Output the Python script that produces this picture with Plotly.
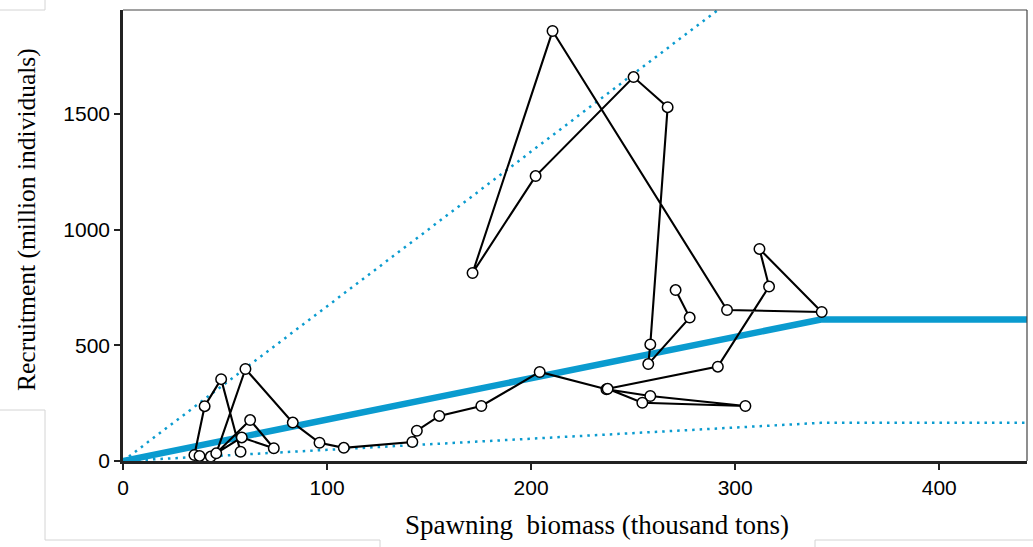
import plotly.graph_objects as go

# Observed stock-recruitment path (spawning biomass, recruitment), in time order
biomass = [57.6, 48.1, 40.0, 35.0, 37.5, 43.0, 58.2, 73.9, 62.3, 45.7, 60.0, 83.2,
           96.3, 108.2, 141.8, 144.0, 155.0, 175.6, 204.2, 236.9, 258.4, 305.0, 254.5,
           237.5, 291.5, 316.6, 311.9, 342.4, 296.0, 210.5, 171.3, 202.2, 250.2, 266.9,
           258.4, 257.4, 277.7, 270.8]
recruit = [40, 354, 237, 26, 22, 19, 102, 55, 177, 33, 398, 166,
           79, 57, 82, 131, 195, 238, 385, 310, 281, 238, 252,
           312, 408, 754, 917, 644, 653, 1859, 813, 1232, 1660, 1530,
           504, 419, 620, 739]

# Hockey-stick reference lines
hs_x = [0, 342, 443]
hs_y = [0, 612, 612]
upper_x = [0, 300]
upper_y = [0, 2007]
lower_x = [0, 342, 443]
lower_y = [0, 165, 165]

x_ticks = [0, 100, 200, 300, 400]
y_ticks = [0, 500, 1000, 1500]

blue = "#0a9bcf"

W, H = 1033, 547
L, R, T, B = 123, 1027, 10, 461  # plot area in pixels

fig = go.Figure()
fig.add_trace(go.Scatter(x=upper_x, y=upper_y, mode="lines",
                         line=dict(color=blue, width=2.5, dash="2.5px,5px"), hoverinfo="skip"))
fig.add_trace(go.Scatter(x=lower_x, y=lower_y, mode="lines",
                         line=dict(color=blue, width=2.5, dash="2.5px,5px"), hoverinfo="skip"))
fig.add_trace(go.Scatter(x=hs_x, y=hs_y, mode="lines",
                         line=dict(color=blue, width=6.5), hoverinfo="skip"))
fig.add_trace(go.Scatter(x=biomass, y=recruit, mode="lines+markers",
                         line=dict(color="black", width=2.1),
                         marker=dict(symbol="circle", size=10.5, color="white",
                                     line=dict(color="black", width=1.5))))

tickfont = dict(family="Liberation Sans, Arial", size=21, color="black")
fig.update_layout(
    width=W, height=H,
    margin=dict(l=L, r=W - R, t=T, b=H - B, autoexpand=False),
    paper_bgcolor="white", plot_bgcolor="white",
    showlegend=False,
    xaxis=dict(range=[0, 443], tickvals=x_ticks, showgrid=False, zeroline=False,
               showline=True, linecolor="#222", linewidth=2.5, automargin=False,
               ticks="outside", ticklen=6, tickwidth=1.5, tickcolor="#222",
               tickfont=tickfont),
    yaxis=dict(range=[0, 1950], tickvals=y_ticks, showgrid=False, zeroline=False,
               showline=True, linecolor="#222", linewidth=2.5, automargin=False,
               ticks="outside", ticklen=6, tickwidth=1.5, tickcolor="#222",
               tickfont=tickfont),
)

fig.add_annotation(text="Spawning  biomass (thousand tons)", xref="paper", yref="paper",
                   x=(597 - L) / (R - L), y=(B - 525) / (B - T), showarrow=False,
                   font=dict(family="Liberation Serif, Times New Roman", size=27, color="black"),
                   xanchor="center", yanchor="middle")
fig.add_annotation(text="Recruitment (million individuals)", xref="paper", yref="paper",
                   x=(27 - L) / (R - L), y=(B - 220) / (B - T), showarrow=False,
                   font=dict(family="Liberation Serif, Times New Roman", size=25.5, color="black"),
                   textangle=-90, xanchor="center", yanchor="middle")

# thin frame on top and right
fig.add_shape(type="line", xref="paper", yref="paper", x0=0, x1=1, y0=1, y1=1,
              line=dict(color="#444", width=1.2))
fig.add_shape(type="line", xref="paper", yref="paper", x0=1, x1=1, y0=0, y1=1,
              line=dict(color="#444", width=1.2))

# faint crop edges visible in the original screenshot
def px(xp):
    return (xp - L) / (R - L)

def py(yp):
    return (B - yp) / (B - T)

edges = [((0, 10), (45, 10)), ((45, 0), (45, 10)),
         ((0, 410), (45, 410)), ((45, 410), (45, 540)), ((45, 540), (380, 540)),
         ((380, 540), (380, 547)), ((815, 547), (815, 540)), ((815, 540), (1033, 540))]
for (a, b) in edges:
    fig.add_shape(type="line", xref="paper", yref="paper",
                  x0=px(a[0]), y0=py(a[1]), x1=px(b[0]), y1=py(b[1]),
                  line=dict(color="#d4d4d4", width=1))

fig.write_html("out.html", config={"displayModeBar": False},
               post_script="document.body.style.margin='0';document.body.style.overflow='hidden';")
